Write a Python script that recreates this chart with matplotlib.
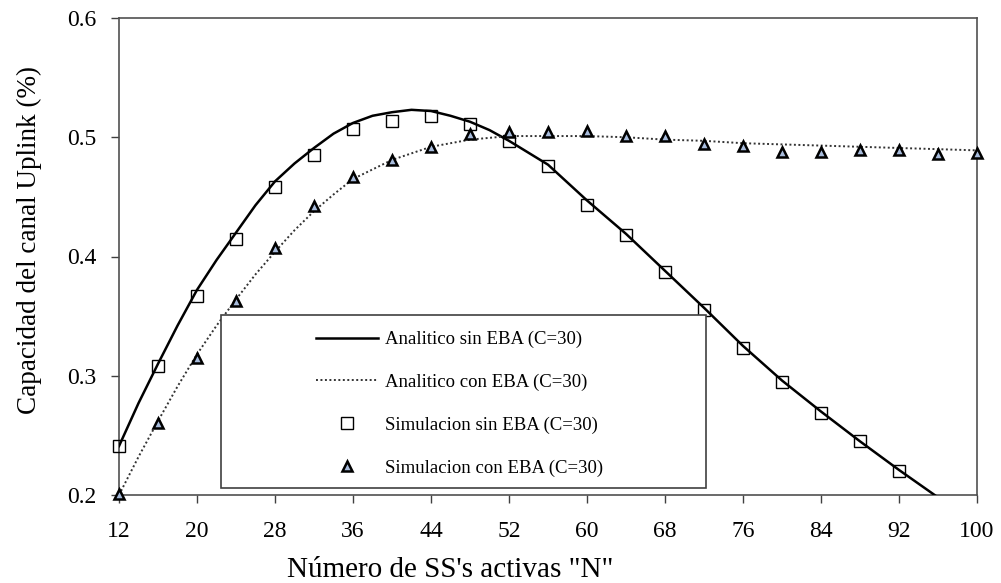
import matplotlib
matplotlib.use("Agg")
import matplotlib.pyplot as plt
from matplotlib.patches import Rectangle

plt.rcParams['font.family'] = ['Liberation Serif', 'DejaVu Serif']

# analytic curve without EBA (C=30)
ana_sin_x = [12, 14, 16, 18, 20, 22, 24, 26, 28, 30, 32, 34, 36, 38, 40, 42, 44, 46, 48, 50,
             52, 56, 60, 64, 68, 72, 76, 80, 84, 88, 92, 96, 100]
ana_sin_y = [0.241, 0.277, 0.310, 0.342, 0.372, 0.397, 0.420, 0.443, 0.463, 0.478, 0.491, 0.503,
             0.512, 0.518, 0.521, 0.523, 0.522, 0.518, 0.513, 0.506,
             0.497, 0.477, 0.447, 0.419, 0.388, 0.357, 0.325, 0.296, 0.270, 0.245, 0.221, 0.198, 0.175]

# analytic curve with EBA (C=30)
ana_con_x = [12, 14, 16, 18, 20, 22, 24, 26, 28, 30, 32, 34, 36, 40, 44, 48, 52, 56, 60, 64,
             68, 72, 76, 80, 84, 88, 92, 96, 100]
ana_con_y = [0.200, 0.232, 0.262, 0.291, 0.318, 0.342, 0.364, 0.385, 0.404, 0.422, 0.438, 0.452,
             0.465, 0.481, 0.492, 0.498, 0.501, 0.501, 0.501, 0.500,
             0.498, 0.497, 0.495, 0.494, 0.493, 0.492, 0.491, 0.490, 0.489]

# simulation without EBA
sim_sin_x = [12, 16, 20, 24, 28, 32, 36, 40, 44, 48, 52, 56, 60, 64, 68, 72, 76, 80, 84, 88, 92]
sim_sin_y = [0.241, 0.308, 0.367, 0.415, 0.458, 0.485, 0.507, 0.514, 0.518, 0.511, 0.497,
             0.476, 0.443, 0.418, 0.387, 0.355, 0.323, 0.295, 0.269, 0.245, 0.220]

# simulation with EBA
sim_con_x = [12, 16, 20, 24, 28, 32, 36, 40, 44, 48, 52, 56, 60, 64, 68, 72, 76, 80, 84, 88, 92, 96, 100]
sim_con_y = [0.201, 0.260, 0.315, 0.363, 0.407, 0.442, 0.467, 0.481, 0.492, 0.503, 0.504,
             0.504, 0.505, 0.501, 0.501, 0.494, 0.493, 0.488, 0.488, 0.489, 0.489, 0.486, 0.487]

xticks = list(range(12, 101, 8))
yticks = [0.2, 0.3, 0.4, 0.5, 0.6]

fig = plt.figure(figsize=(10.01, 5.83), dpi=100)
ax = fig.add_axes([119 / 1001, 88 / 583, 858 / 1001, 477 / 583])

ax.plot(ana_sin_x, ana_sin_y, color='black', lw=1.8, label='Analitico sin EBA (C=30)', zorder=3)
ax.plot(ana_con_x, ana_con_y, color='#333333', lw=1.4, linestyle=(0, (1, 1.3)),
        label='Analitico con EBA (C=30)', zorder=3)
ax.plot(sim_sin_x, sim_sin_y, linestyle='none', marker='s', ms=9, mfc='none', mec='black',
        mew=1.0, label='Simulacion sin EBA (C=30)', zorder=4, clip_on=False)
ax.plot(sim_con_x, sim_con_y, linestyle='none', marker='^', ms=7.5, mfc='#a8bcdc', mec='black',
        mew=1.8, label='Simulacion con EBA (C=30)', zorder=4, clip_on=False)

ax.set_xlim(12, 100)
ax.set_ylim(0.2, 0.6)
ax.set_xticks(xticks)
ax.set_yticks(yticks)
ax.set_xticklabels([str(t) for t in xticks])
ax.set_yticklabels([f"{t:.1f}" for t in yticks])
ax.tick_params(axis='both', labelsize=17, direction='out', length=6, width=1, color='#404040',
               top=False, right=False)
ax.tick_params(axis='x', pad=13)
ax.tick_params(axis='y', pad=10)
for s in ax.spines.values():
    s.set_color('#505050')
    s.set_linewidth(1.2)

ax.set_xlabel('Número de SS\'s activas "N"', fontsize=21)
ax.set_ylabel('Capacidad del canal Uplink (%)', fontsize=19.5)
ax.xaxis.set_label_coords(0.386, -0.13)
ax.yaxis.set_label_coords(-0.09, 0.535)

# legend box (wider than its content, as in the original)
box = Rectangle((0.119, 0.0147), 0.684 - 0.119, 0.377 - 0.0147, transform=ax.transAxes,
                facecolor='white', edgecolor='#404040', lw=1.2, zorder=5)
ax.add_patch(box)
leg = ax.legend(loc='upper left', bbox_to_anchor=(0.2296, 0.344), frameon=False,
                fontsize=13.5, handlelength=3.3, handletextpad=0.37, labelspacing=1.36,
                borderpad=0, borderaxespad=0, numpoints=1)
leg.set_zorder(6)

fig.savefig('out.png', dpi=100)
